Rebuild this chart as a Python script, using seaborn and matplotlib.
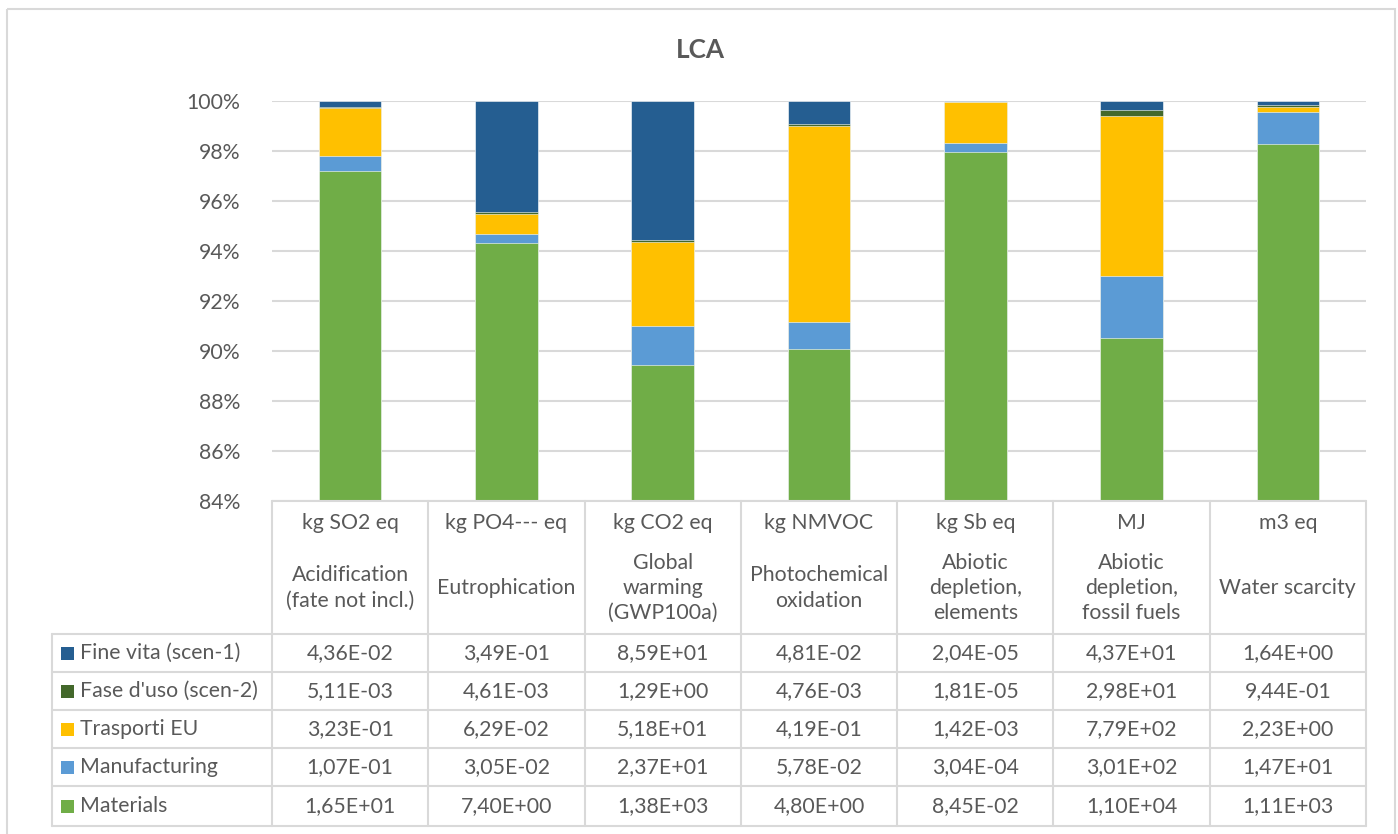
import numpy as np
import pandas as pd
import seaborn as sns
import matplotlib
matplotlib.use("Agg")
import matplotlib.pyplot as plt
from matplotlib.patches import Rectangle

# ---------------- data ----------------
units = ["kg SO2 eq", "kg PO4--- eq", "kg CO2 eq", "kg NMVOC", "kg Sb eq", "MJ", "m3 eq"]
categories = ["Acidification\n(fate not incl.)", "Eutrophication", "Global\nwarming\n(GWP100a)",
              "Photochemical\noxidation", "Abiotic\ndepletion,\nelements", "Abiotic\ndepletion,\nfossil fuels",
              "Water scarcity"]
materials = [1.65e+01, 7.40e+00, 1.38e+03, 4.80e+00, 8.45e-02, 1.10e+04, 1.11e+03]
manufacturing = [1.07e-01, 3.05e-02, 2.37e+01, 5.78e-02, 3.04e-04, 3.01e+02, 1.47e+01]
trasporti = [3.23e-01, 6.29e-02, 5.18e+01, 4.19e-01, 1.42e-03, 7.79e+02, 2.23e+00]
fase_uso = [5.11e-03, 4.61e-03, 1.29e+00, 4.76e-03, 1.81e-05, 2.98e+01, 9.44e-01]
fine_vita = [4.36e-02, 3.49e-01, 8.59e+01, 4.81e-02, 2.04e-05, 4.37e+01, 1.64e+00]
series_names = ["Materials", "Manufacturing", "Trasporti EU", "Fase d'uso (scen-2)", "Fine vita (scen-1)"]
series_values = [materials, manufacturing, trasporti, fase_uso, fine_vita]
series_colors = ["#70AD47", "#5B9BD5", "#FFC000", "#43682B", "#255E91"]
y_ticks = [84, 86, 88, 90, 92, 94, 96, 98, 100]
title = "LCA"

# ---------------- figure ----------------
sns.set_theme(style="white")
plt.rcParams['font.family'] = ['Lato', 'DejaVu Sans']
W, H = 1398, 834
fig = plt.figure(figsize=(W / 100, H / 100), dpi=100)
fig.patch.set_facecolor("white")
renderer = fig.canvas.get_renderer()


def text_width(s, size, weight="normal"):
    t = fig.text(0, 0, s, fontsize=size, fontweight=weight)
    w = t.get_window_extent(renderer).width
    t.remove()
    return w


# choose font sizes so that text widths match the reference picture
fits = [("Fase d'uso (scen-2)", 182), ("4,36E-02", 84), ("100%", 52), ("Photochemical", 143)]
fs = float(np.mean([10 * target / text_width(s, 10) for s, target in fits]))
fs_title = 10 * 49 / text_width(title, 10, "bold")

TXT = "#595959"
GRID = "#D9D9D9"

# plot area in pixels
px_l, px_r, px_t, px_b = 272, 1366, 101, 501
ax = fig.add_axes([px_l / W, 1 - px_b / H, (px_r - px_l) / W, (px_b - px_t) / H])

vals = np.array(series_values)
pct = vals / vals.sum(axis=0) * 100
cum = np.cumsum(pct, axis=0)
xlabels = [f"c{i}" for i in range(len(units))]

# draw from the top segment down so the cumulative bars overlap correctly
for k in range(len(series_names) - 1, -1, -1):
    df = pd.DataFrame({"cat": xlabels, "v": cum[k]})
    sns.barplot(data=df, x="cat", y="v", color=series_colors[k], saturation=1,
                width=0.40, ax=ax, edgecolor="white", linewidth=0.4, zorder=3)

ax.set_xlim(-0.5, len(units) - 0.5)
ax.set_ylim(84, 100)
ax.set_yticks(y_ticks)
ax.set_yticklabels([f"{t}%" for t in y_ticks], color=TXT, fontsize=fs)
ax.tick_params(axis="y", length=0, pad=23)
ax.set_xticks([])
ax.set_xlabel("")
ax.set_ylabel("")
for s in ax.spines.values():
    s.set_visible(False)
ax.grid(axis="y", color=GRID, linewidth=1.5, zorder=0)
ax.set_axisbelow(True)

# ---------------- overlay for title, border and data table ----------------
ov = fig.add_axes([0, 0, 1, 1], zorder=5)
ov.set_xlim(0, W)
ov.set_ylim(H, 0)
ov.axis("off")
ov.patch.set_alpha(0)

# outer chart border
ov.add_patch(Rectangle((7, 9), 1388, 840, fill=False, edgecolor=GRID, linewidth=1.5))

ov.text(700.5, 50, title, ha="center", va="center", fontsize=fs_title, fontweight="bold", color=TXT)

col_x = np.linspace(px_l, px_r, len(units) + 1)
row_y = [634, 672, 710, 748, 786, 826]
leg_l = 52
tab_top = 501

lw = 1.5
# horizontal lines
ov.plot([px_l, px_r], [tab_top, tab_top], color=GRID, lw=lw)
for y in row_y:
    ov.plot([leg_l, px_r], [y, y], color=GRID, lw=lw)
# vertical lines
for x in col_x:
    ov.plot([x, x], [tab_top, row_y[-1]], color=GRID, lw=lw)
ov.plot([leg_l, leg_l], [row_y[0], row_y[-1]], color=GRID, lw=lw)

# header cells
for i in range(len(units)):
    cx = (col_x[i] + col_x[i + 1]) / 2
    ov.text(cx, 523, units[i], ha="center", va="center", fontsize=fs, color=TXT)
    ov.text(cx, 588, categories[i], ha="center", va="center", fontsize=fs, color=TXT,
            linespacing=1.33, multialignment="center")

# data rows: top row is last series
for r in range(len(series_names)):
    k = len(series_names) - 1 - r
    cy = (row_y[r] + row_y[r + 1]) / 2
    ov.add_patch(Rectangle((61, cy - 6.5), 13, 13, facecolor=series_colors[k], edgecolor="none"))
    ov.text(80, cy, series_names[k], ha="left", va="center", fontsize=fs, color=TXT)
    for i in range(len(units)):
        cx = (col_x[i] + col_x[i + 1]) / 2
        s = f"{series_values[k][i]:.2E}".replace(".", ",")
        ov.text(cx, cy, s, ha="center", va="center", fontsize=fs, color=TXT)

fig.savefig("out.png", dpi=100, facecolor="white")
